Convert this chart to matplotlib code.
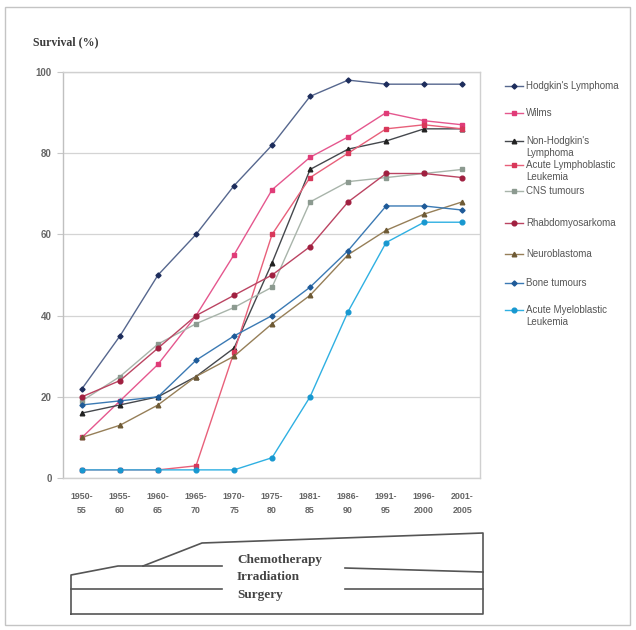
import matplotlib.pyplot as plt
from matplotlib.lines import Line2D
from matplotlib.patches import Rectangle

periods = ["1950-\n55", "1955-\n60", "1960-\n65", "1965-\n70", "1970-\n75", "1975-\n80",
           "1981-\n85", "1986-\n90", "1991-\n95", "1996-\n2000", "2001-\n2005"]

hodgkin = [22, 35, 50, 60, 72, 82, 94, 98, 97, 97, 97]
wilms = [10, 19, 28, 40, 55, 71, 79, 84, 90, 88, 87]
nhl = [16, 18, 20, 25, 32, 53, 76, 81, 83, 86, 86]
all_leuk = [2, 2, 2, 3, 31, 60, 74, 80, 86, 87, 86]
cns = [19, 25, 33, 38, 42, 47, 68, 73, 74, 75, 76]
rhabdo = [20, 24, 32, 40, 45, 50, 57, 68, 75, 75, 74]
neuro = [10, 13, 18, 25, 30, 38, 45, 55, 61, 65, 68]
bone = [18, 19, 20, 29, 35, 40, 47, 56, 67, 67, 66]
aml = [2, 2, 2, 2, 2, 5, 20, 41, 58, 63, 63]

series = [
    ("Hodgkin's Lymphoma", hodgkin, "#56678e", "#1d2d5c", "D", 2.6),
    ("Wilms", wilms, "#e5578e", "#e03c78", "s", 3.2),
    ("Non-Hodgkin's\nLymphoma", nhl, "#45484d", "#222222", "^", 3.3),
    ("Acute Lymphoblastic\nLeukemia", all_leuk, "#e8607a", "#d8385a", "s", 2.8),
    ("CNS tumours", cns, "#a8b4aa", "#8c9a90", "s", 2.8),
    ("Rhabdomyosarkoma", rhabdo, "#bb4462", "#a02040", "o", 3.4),
    ("Neuroblastoma", neuro, "#967f58", "#6e5a35", "^", 3.3),
    ("Bone tumours", bone, "#3b7ab4", "#1e5a98", "D", 2.6),
    ("Acute Myeloblastic\nLeukemia", aml, "#2fb0e2", "#1898d0", "o", 3.4),
]

W, H = 636, 630
fig = plt.figure(figsize=(W / 100, H / 100), dpi=100)

# main chart (pixel box 63..480 x 72..478)
ax = fig.add_axes([63 / W, 1 - 478 / H, (480 - 63) / W, (478 - 72) / H])
x = list(range(len(periods)))
for name, vals, lc, mc, mk, ms in series:
    ax.plot(x, vals, color=lc, lw=1.0, marker=mk, ms=ms, mfc=mc, mec=mc, zorder=3)

ax.set_xlim(-0.5, 10.47)
ax.set_ylim(0, 100)
ax.set_yticks([0, 20, 40, 60, 80, 100])
ax.set_xticks(x)
ax.set_xticklabels(periods, fontsize=6.4, color="#666666", family="Liberation Sans",
                   fontweight="bold", linespacing=1.75)
ax.tick_params(axis="y", labelsize=7, labelcolor="#666666", length=4, color="#c8c8c8",
               pad=4)
ax.tick_params(axis="x", length=0, pad=10)
for t in ax.get_yticklabels():
    t.set_family("Liberation Sans")
    t.set_fontweight("bold")
ax.grid(axis="y", color="#d4d4d4", lw=0.9)
ax.set_axisbelow(True)
for s in ax.spines.values():
    s.set_color("#d0d0d0")
    s.set_linewidth(1.0)
ax.spines["left"].set_color("#c0c0c0")

# overlay in pixel coordinates for title, legend and treatment diagram
ov = fig.add_axes([0, 0, 1, 1], facecolor="none")
ov.set_xlim(0, W)
ov.set_ylim(H, 0)
ov.axis("off")

ov.add_patch(Rectangle((5, 7), 625, 618, fill=False, ec="#c4c4c4", lw=1.0))
ov.text(33, 42, "Survival (%)", fontsize=8.5, fontweight="bold", family="Liberation Serif",
        color="#3a3a3a", va="center", ha="left")

# legend
leg_y = [86, 113, 141, 165, 191, 223, 254, 283, 310]
for (name, vals, lc, mc, mk, ms), yy in zip(series, leg_y):
    ov.add_line(Line2D([505, 523], [yy, yy], color=lc, lw=1.0))
    ov.add_line(Line2D([514], [yy], marker=mk, ms=ms, mfc=mc, mec=mc, ls="none"))
    ov.text(526, yy - 5, name, fontsize=7.0, color="#555555", family="Liberation Sans",
            va="top", ha="left", linespacing=1.2)

# treatment diagram
lc = "#555555"
outline_x = [71, 71, 118, 143, 202, 483, 483, 71]
outline_y = [614, 575, 566, 566, 543, 533, 614, 614]
ov.add_line(Line2D(outline_x, outline_y, color=lc, lw=1.2))
ov.add_line(Line2D([143, 222], [566, 566], color=lc, lw=1.2))
ov.add_line(Line2D([345, 483], [568, 572], color=lc, lw=1.2))
ov.add_line(Line2D([71, 222], [589, 589], color=lc, lw=1.2))
ov.add_line(Line2D([345, 483], [589, 589], color=lc, lw=1.2))
for label, yy in [("Chemotherapy", 560), ("Irradiation", 577), ("Surgery", 595)]:
    ov.text(237, yy, label, fontsize=9.5, fontweight="bold", family="Liberation Serif",
            color="#444444", va="center", ha="left")

fig.savefig("out.png", dpi=100, facecolor="white")
